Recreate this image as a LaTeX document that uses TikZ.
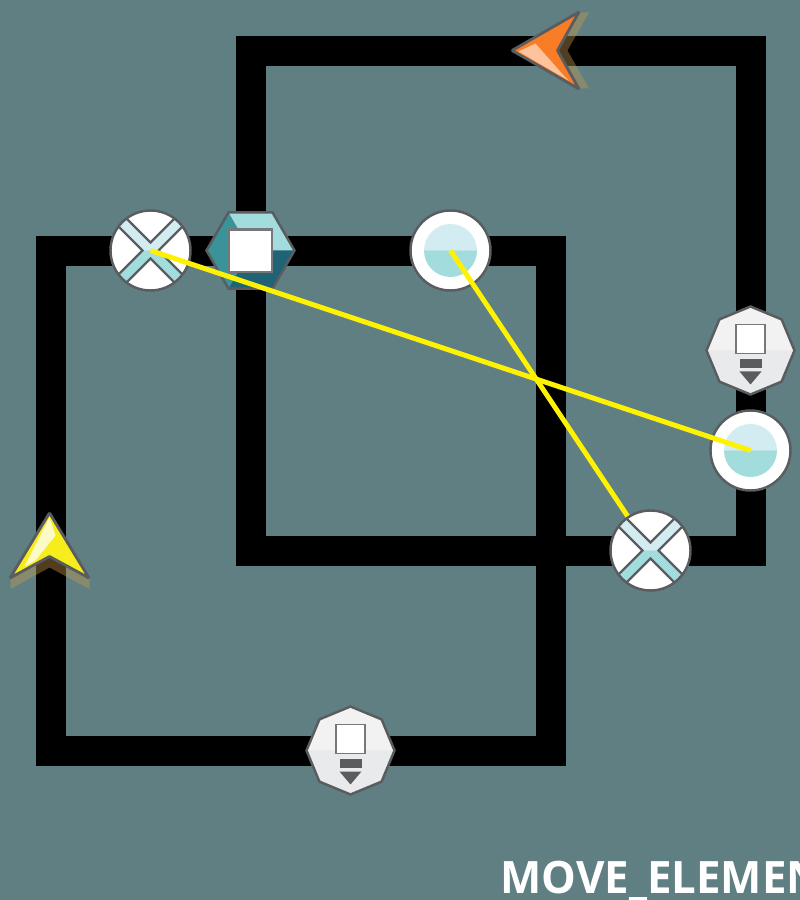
\documentclass[tikz,border=0pt]{standalone}
\usepackage{fontspec}
\setsansfont[FakeStretch=.98]{Open Sans}
\usetikzlibrary{shapes.geometric,backgrounds}
\definecolor{bpmnbg}{HTML}{5F7F82}
\definecolor{edgegray}{HTML}{5A5C60}
\definecolor{boxgray}{HTML}{75777B}
\definecolor{palecyan}{HTML}{D3ECF1}
\definecolor{softcyan}{HTML}{A3DCDC}
\definecolor{midteal}{HTML}{3A9398}
\definecolor{deepteal}{HTML}{1F6475}
\definecolor{octtop}{HTML}{F2F2F3}
\definecolor{octlow}{HTML}{E9EAEC}
\definecolor{markyellow}{HTML}{F7EC1C}
\definecolor{markorange}{HTML}{F97C26}
\tikzset{
	flow/.style={line width=.3cm,line join=miter,transform canvas={shift={(.004,-.004)}}},
	signal/.style={line width=1.4pt,yellow},
	shadowmark/.style={fill={rgb,255:red,200;green,155;blue,75},fill opacity=.4},
	event/.style={draw=edgegray,line width=.7pt,circle,fill=white,inner sep=0pt,outer sep=0pt,minimum size=.8cm,
		path picture={
			\begin{scope}[shift={(path picture bounding box.center)}]
				\fill[palecyan] (-.265,0) arc (180:0:.265) -- cycle;
				\fill[softcyan] (-.265,0) arc (180:360:.265) -- cycle;
			\end{scope}
		}},
	gateway/.style={draw=edgegray,line width=.7pt,circle,fill=white,inner sep=0pt,outer sep=0pt,minimum size=.8cm,
		path picture={
			\begin{scope}[shift={(path picture bounding box.center)}]
				\fill[palecyan] (-.08,0) -- (-.5,.42) -- (-.42,.5) -- (0,.08) -- (.42,.5) -- (.5,.42) -- (.08,0) -- cycle;
				\fill[softcyan] (-.08,0) -- (-.5,-.42) -- (-.42,-.5) -- (0,-.08) -- (.42,-.5) -- (.5,-.42) -- (.08,0) -- cycle;
				\draw[edgegray,line width=.7pt] (-.42,.5) -- (0,.08) -- (.42,.5);
				\draw[edgegray,line width=.7pt] (-.42,-.5) -- (0,-.08) -- (.42,-.5);
				\draw[edgegray,line width=.7pt] (-.5,.42) -- (-.08,0) -- (-.5,-.42);
				\draw[edgegray,line width=.7pt] (.5,.42) -- (.08,0) -- (.5,-.42);
			\end{scope}
		}},
	hextask/.style={draw=edgegray,line width=.7pt,regular polygon,regular polygon sides=6,inner sep=0pt,outer sep=0pt,minimum size=.88cm,fill=softcyan,
		path picture={
			\begin{scope}[shift={(path picture bounding box.center)}]
				\fill[midteal] (0,0) -- (-.22,.38) -- (-.44,0) -- (-.22,-.38) -- cycle;
				\fill[deepteal] (0,0) -- (.44,0) -- (.22,-.38) -- (-.22,-.38) -- cycle;
				\draw[boxgray,line width=.6pt,fill=white] (-.215,-.215) rectangle (.215,.21);
			\end{scope}
		}},
	octask/.style={draw=edgegray,line width=.7pt,regular polygon,regular polygon sides=8,shape border rotate=22.5,inner sep=0pt,outer sep=0pt,minimum size=.88cm,fill=octtop,
		path picture={
			\begin{scope}[shift={(path picture bounding box.center)}]
				\fill[octlow] (-.5,0) rectangle (.5,-.5);
				\draw[boxgray,line width=.45pt,fill=white] (-.145,-.03) rectangle (.145,.26);
				\fill[edgegray] (-.11,-.09) rectangle (.11,-.18);
				\fill[edgegray] (-.11,-.21) -- (.11,-.21) -- (0,-.34) -- cycle;
			\end{scope}
		}}
}
\begin{document}
\begin{tikzpicture}
	\useasboundingbox (0,0) rectangle (8,9);
	\clip (0,0) rectangle (8,9);
	\node[gateway] at (1.505,6.495) (gatea) {};
	\node[hextask] at (2.505,6.495) (hexa) {};
	\node[event] at (4.505,6.495) (eva) {};
	\node[octask] at (7.505,5.495) (octa) {};
	\node[event] at (7.505,4.495) (evb) {};
	\node[octask] at (3.505,1.495) (octb) {};
	\coordinate (markb) at (5.505,8.495);
	\coordinate (marka) at (.505,3.495);
	\coordinate (gatepos) at (6.505,3.495);
	\coordinate (ctl) at (2.505,8.495);
	\coordinate (ctr) at (7.505,8.495);
	\coordinate (cbr) at (7.505,3.495);
	\coordinate (cbl) at (2.505,3.495);
	\coordinate (dtl) at (.505,6.495);
	\coordinate (dtr) at (5.505,6.495);
	\coordinate (dbr) at (5.505,1.495);
	\coordinate (dbl) at (.505,1.495);
	\begin{scope}[on background layer]
		\fill[bpmnbg] (0,0) rectangle (8,9);
		\draw[flow] (hexa.center) -- (ctl) -- (markb) -- (ctr) -- (octa.center) -- (evb.center) -- (cbr) -- (gatepos) -- (cbl) -- cycle;
		\draw[flow] (gatea.center) -- (hexa.center) -- (eva.center) -- (dtr) -- (dbr) -- (octb.center) -- (dbl) -- (marka) -- (dtl) -- cycle;
	\end{scope}
	% yellow marker
	\begin{scope}[shift={(marka)}]
		\fill[shadowmark] (-.4,-.385) -- (-.4,-.27) -- (-.01,-.06) -- (.39,-.27) -- (.39,-.385) -- (-.01,-.17) -- cycle;
		\draw[draw=edgegray,line width=.8pt,fill=markyellow,line join=bevel] (-.01,.375) -- (.385,-.275) -- (-.01,-.06) -- (-.405,-.275) -- cycle;
		\fill[white,fill opacity=.75] (-.01,.33) -- (-.26,-.16) -- (-.15,-.1) -- (.05,.15) -- cycle;
	\end{scope}
	% orange marker
	\begin{scope}[shift={(markb)}]
		\fill[shadowmark] (.385,.38) -- (.28,.38) -- (.07,0) -- (.28,-.38) -- (.385,-.38) -- (.17,0) -- cycle;
		\draw[draw=edgegray,line width=.8pt,fill=markorange,line join=bevel] (-.385,0) -- (.285,.385) -- (.07,0) -- (.285,-.385) -- cycle;
		\fill[white,fill opacity=.55] (-.32,-.01) -- (-.15,.07) -- (.15,-.27) -- (.18,-.3) -- cycle;
	\end{scope}
	\draw[signal] (gatea.center) -- (evb.center);
	\draw[signal] (eva.center) -- (gatepos);
	\node[gateway] at (gatepos) (gateb) {};
	\node[anchor=base west,text=white,inner sep=0pt,font=\sffamily\bfseries\fontsize{12.7}{15}\selectfont] at (5,.06) (title) {MOVE\_ELEMENT};
\end{tikzpicture}
\end{document}
